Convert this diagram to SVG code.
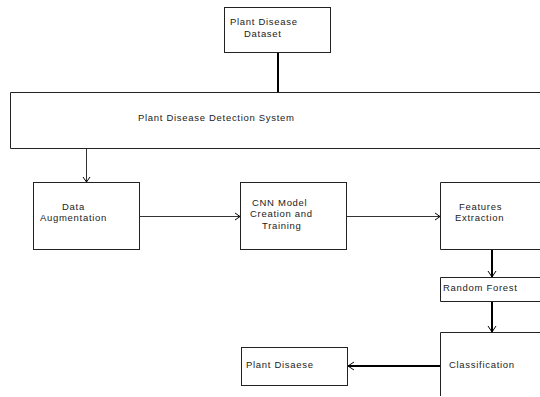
<svg xmlns="http://www.w3.org/2000/svg" width="540" height="397" viewBox="0 0 540 397">
<defs>
<style>
.box{fill:#fff;stroke:#222;stroke-width:1}
.t{font-family:"Liberation Sans",Arial,sans-serif;font-size:9.5px;fill:#222;letter-spacing:0.7px}
.thin{stroke:#333;stroke-width:1;fill:none}
.thick{stroke:#000;stroke-width:2;fill:none}
.ah{fill:none;stroke:#000;stroke-width:1}
</style>
</defs>
<rect width="540" height="397" fill="#fff"/>
<g id="dataset"><rect class="box" x="224.5" y="7.5" width="106" height="45"/><text class="t" x="230" y="25">Plant Disease</text><text class="t" x="244" y="37">Dataset</text></g>
<g id="system"><path class="box" d="M545,92.5 H10.5 V148.5 H545"/><text class="t" x="138" y="121">Plant Disease Detection System</text></g>
<g id="augment"><rect class="box" x="33.5" y="182.5" width="106" height="67"/><text class="t" x="62" y="210">Data</text><text class="t" x="40" y="221">Augmentation</text></g>
<g id="cnn"><rect class="box" x="240.5" y="182.5" width="106" height="67"/><text class="t" x="252" y="206">CNN Model</text><text class="t" x="250" y="217">Creation and</text><text class="t" x="262" y="229">Training</text></g>
<g id="features"><path class="box" d="M545,182.5 H440.5 V249.5 H545"/><text class="t" x="459" y="210">Features</text><text class="t" x="455" y="221">Extraction</text></g>
<g id="rf"><path class="box" d="M545,277.5 H440.5 V301.5 H545"/><text class="t" x="443" y="291">Random Forest</text></g>
<g id="classification"><path class="box" d="M545,332.5 H440.5 V396"/><text class="t" x="449" y="368">Classification</text></g>
<g id="plantdisease"><rect class="box" x="241.5" y="347.5" width="106" height="38"/><text class="t" x="246" y="368">Plant Disaese</text></g>
<g id="connectors">
<line class="thick" x1="278" y1="53" x2="278" y2="92"/>
<line class="thin" x1="86.5" y1="149" x2="86.5" y2="182"/>
<path class="ah" d="M83,177 L86.5,182 L90,177"/>
<line class="thin" x1="140" y1="216.5" x2="240" y2="216.5"/>
<path class="ah" d="M235,213 L240,216.5 L235,220"/>
<line class="thin" x1="347" y1="216.5" x2="440" y2="216.5"/>
<path class="ah" d="M435,213 L440,216.5 L435,220"/>
<line class="thick" x1="492" y1="250" x2="492" y2="277"/>
<path class="ah" d="M488,271 L492,277 L496,271"/>
<line class="thick" x1="492" y1="302" x2="492" y2="332"/>
<path class="ah" d="M488,326 L492,332 L496,326"/>
<line class="thick" x1="440" y1="366" x2="348" y2="366"/>
<path class="ah" d="M354,362 L348,366 L354,370"/>
</g>
</svg>
